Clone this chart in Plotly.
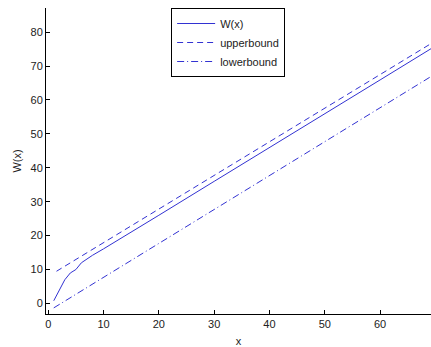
import plotly.graph_objects as go

# Data
w_x = [1, 2, 3, 4, 5, 6, 8, 10, 15, 20, 30, 40, 50, 60, 69.2]
w_y = [0.8, 4.0, 7.0, 9.0, 10.0, 12.0, 14.2, 16.1, 21.0, 26.0, 36.0, 45.9, 55.9, 65.9, 75.1]

upper_x = [1.5, 35, 69.2]
upper_y = [9.5, 42.8, 76.6]

lower_x = [1.0, 35, 69.2]
lower_y = [-1.3, 32.7, 66.9]

x_ticks = [0, 10, 20, 30, 40, 50, 60]
y_ticks = [0, 10, 20, 30, 40, 50, 60, 70, 80]

line_color = "rgb(50,50,210)"
font_family = "Liberation Sans, Arial, sans-serif"

fig = go.Figure()
fig.add_trace(go.Scatter(x=w_x, y=w_y, mode="lines", name="W(x)",
                         line=dict(color=line_color, width=1)))
fig.add_trace(go.Scatter(x=upper_x, y=upper_y, mode="lines", name="upperbound",
                         line=dict(color=line_color, width=1, dash="6px,4px")))
fig.add_trace(go.Scatter(x=lower_x, y=lower_y, mode="lines", name="lowerbound",
                         line=dict(color=line_color, width=1, dash="7px,3px,1px,3px")))

fig.update_layout(
    width=431, height=347,
    margin=dict(l=46, r=0, t=8, b=33),
    paper_bgcolor="white", plot_bgcolor="white",
    font=dict(family=font_family, size=11, color="#222"),
    showlegend=True,
    legend=dict(x=0.325, y=1.0, xanchor="left", yanchor="top",
                bordercolor="black", borderwidth=1, bgcolor="white",
                font=dict(size=11, color="#222"),
                tracegroupgap=0, itemwidth=38),
    xaxis=dict(range=[-0.4, 69.2], tickvals=x_ticks, ticks="inside", ticklen=4,
               tickcolor="black", showline=True, linecolor="black", linewidth=1,
               mirror=False, showgrid=False, zeroline=False, automargin=False,
               title=dict(text="x", standoff=8, font=dict(size=11))),
    yaxis=dict(range=[-3.1, 87.1], tickvals=y_ticks, ticks="inside", ticklen=4,
               tickcolor="black", showline=True, linecolor="black", linewidth=1,
               mirror=False, showgrid=False, zeroline=False, automargin=False,
               title=dict(text="W(x)", standoff=6, font=dict(size=11))),
)

fig.write_html("out.html", config={"displayModeBar": False},
               post_script="document.body.style.margin='0';document.body.style.overflow='hidden';")
